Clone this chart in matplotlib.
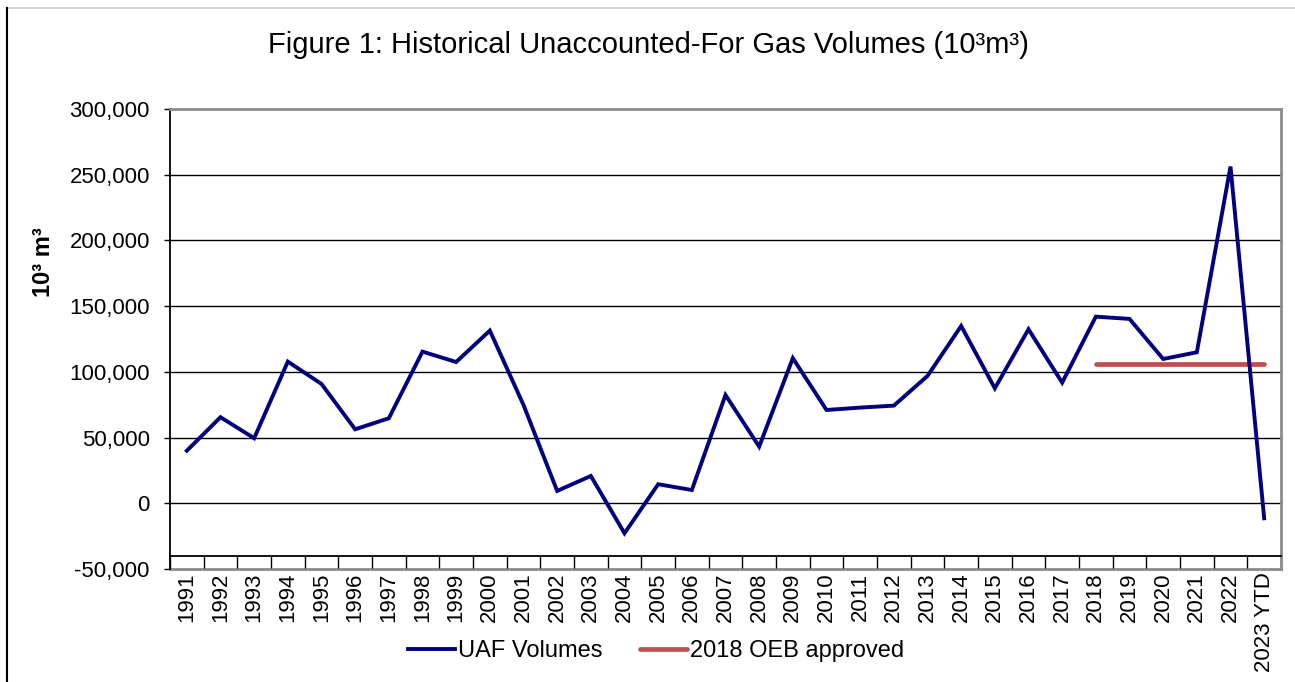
import matplotlib
matplotlib.use("Agg")
import matplotlib.pyplot as plt
import numpy as np
from matplotlib.ticker import FuncFormatter, FixedLocator
from matplotlib.lines import Line2D

plt.rcParams['font.family'] = ['Liberation Sans', 'DejaVu Sans']

years = [str(y) for y in range(1991, 2023)] + ["2023 YTD"]
uaf_volumes = [40000, 65500, 49500, 107800, 90800, 56300, 64700, 115400, 107500, 131400,
               74800, 9400, 20800, -22800, 14500, 10100, 82400, 43100, 110400, 71000,
               72800, 74300, 96900, 134900, 87500, 132400, 91800, 142000, 140300, 109800,
               114900, 256200, -11400]
oeb_start_year = "2018"
oeb_value = 106000

title = "Figure 1: Historical Unaccounted-For Gas Volumes (10\u00b3m\u00b3)"
ylabel = "10\u00b3 m\u00b3"

W, H = 1295, 682
fig = plt.figure(figsize=(W / 100, H / 100), dpi=100)
ax = fig.add_axes([170 / W, 1 - 569 / H, (1281 - 170) / W, (569 - 109) / H])

x = np.arange(len(years))
start = years.index(oeb_start_year)
oeb = np.full(len(years), np.nan)
oeb[start:] = oeb_value

ax.plot(x, uaf_volumes, color="#000080", lw=2.8, solid_joinstyle="miter", label="UAF Volumes", zorder=3)
ax.plot(x, oeb, color="#C0504D", lw=3.4, solid_capstyle="round", label="2018 OEB approved", zorder=2)

ax.set_xlim(-0.5, len(years) - 0.5)
ax.set_ylim(-50000, 300000)
ax.set_yticks(np.arange(-50000, 300001, 50000))
ax.yaxis.set_major_formatter(FuncFormatter(lambda v, p: f"{int(v):,}"))

for v in range(0, 300000, 50000):
    ax.axhline(v, color="black", lw=1.0, zorder=1)
ax.axhline(-50000, color="#8c8c8c", lw=2.0, clip_on=False, zorder=1)

ax.spines['top'].set_color("#8c8c8c")
ax.spines['top'].set_linewidth(2.0)
ax.spines['right'].set_color("#8c8c8c")
ax.spines['right'].set_linewidth(2.0)
ax.spines['left'].set_color("black")
ax.spines['left'].set_linewidth(1.3)
ax.spines['bottom'].set_position(('data', -40000))
ax.spines['bottom'].set_color("black")
ax.spines['bottom'].set_linewidth(1.3)

ax.set_xticks(x)
ax.set_xticklabels(years, rotation=90, fontsize=16)
ax.xaxis.set_minor_locator(FixedLocator(np.arange(-0.5, len(years), 1.0)))
ax.tick_params(axis='x', which='major', length=0, pad=12)
ax.tick_params(axis='x', which='minor', length=8.6, width=1.0, direction='out', color='black')
ax.tick_params(axis='y', which='major', length=4.5, width=1.0, direction='out', pad=10, labelsize=16)

ax.set_ylabel(ylabel, fontsize=17, fontweight='bold')
ax.yaxis.set_label_coords(-0.1035, 0.667)

fig.text(0.501, 1 - 45 / H, title, ha='center', va='center', fontsize=21)

fig.legend(loc='center', bbox_to_anchor=(0.5066, 1 - 651 / H), ncol=2, frameon=False,
           fontsize=17, handlelength=2.0, handletextpad=0.1, columnspacing=1.6)

fig.add_artist(Line2D([7 / W, 1], [1 - 8 / H, 1 - 8 / H], transform=fig.transFigure, color="#d0d0d0", lw=1.2))
fig.add_artist(Line2D([7 / W, 7 / W], [0, 1 - 8 / H], transform=fig.transFigure, color="black", lw=1.5))

fig.savefig("out.png", dpi=100)
